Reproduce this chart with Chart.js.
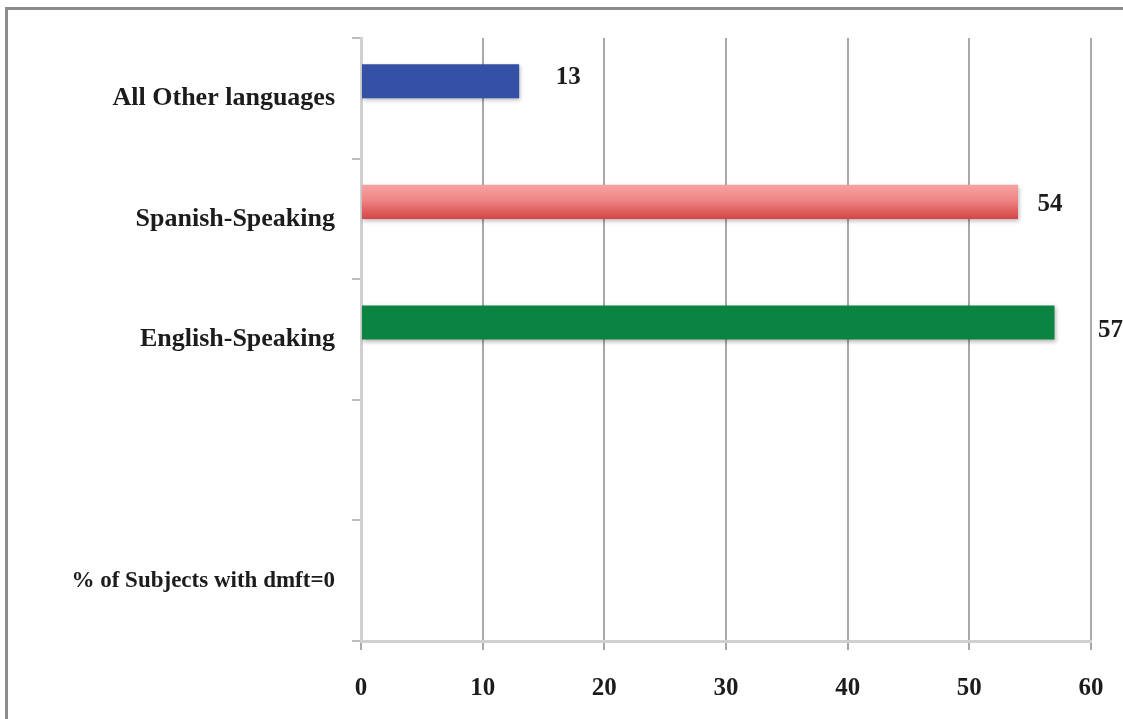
<!DOCTYPE html>
<html>
<head>
<meta charset="utf-8">
<script src="https://cdn.jsdelivr.net/npm/chart.js@4.4.1/dist/chart.umd.min.js"></script>
<style>
  html, body { margin: 0; padding: 0; background: #ffffff; overflow: hidden; }
  #wrap { position: relative; width: 1123px; height: 719px; }
  #frame {
    position: absolute; left: 5px; top: 7px; width: 1300px; height: 900px;
    border-top: 3px solid #8c8c8c; border-left: 3px solid #8c8c8c;
    box-sizing: border-box;
  }
  #c { position: absolute; left: 0; top: 0; }
</style>
</head>
<body>
<div id="wrap">
  <div id="frame"></div>
  <canvas id="c" width="1123" height="719"></canvas>
</div>
<script>
// Categories, top to bottom
const categories = [
  'All Other languages',
  'Spanish-Speaking',
  'English-Speaking',
  '',
  '% of Subjects with dmft=0'
];
// Percent of subjects with dmft = 0
const dmftZeroPct = [13, 54, 57, null, null];
// Companion series slot (no values)
const secondSeries = [null, null, null, null, null];
// Axis ticks
const xTicks = [0, 10, 20, 30, 40, 50, 60];

const barColors = ['#3451a6', '#e56a6a', '#0b8442'];
// Label nudges relative to each bar's end (styling only)
const labelNudge = [
  { dx: 49, dy: -4 },
  { dx: 32, dy: 3 },
  { dx: 56, dy: 8 }
];

const serif = '"Liberation Serif", "DejaVu Serif", serif';

const barStyle = {
  id: 'barStyle',
  beforeDatasetDraw(chart, args) {
    if (args.index !== 0) return;
    const ctx = chart.ctx;
    const meta = args.meta;
    meta.data.forEach((el, i) => {
      if (i === 1 && el.height) {
        const top = el.y - el.height / 2, bot = el.y + el.height / 2;
        const g = ctx.createLinearGradient(0, top, 0, bot);
        g.addColorStop(0, '#f7a3a3');
        g.addColorStop(0.45, '#ef8585');
        g.addColorStop(1, '#d44545');
        el.options.backgroundColor = g;
      }
    });
    ctx.save();
    ctx.shadowColor = 'rgba(0,0,0,0.28)';
    ctx.shadowBlur = 4;
    ctx.shadowOffsetX = 1;
    ctx.shadowOffsetY = 2;
  },
  afterDatasetDraw(chart, args) {
    if (args.index !== 0) return;
    chart.ctx.restore();
  }
};

const valueLabels = {
  id: 'valueLabels',
  afterDatasetsDraw(chart) {
    const ctx = chart.ctx;
    const meta = chart.getDatasetMeta(0);
    ctx.save();
    ctx.font = 'bold 25px ' + serif;
    ctx.fillStyle = '#1c1c1c';
    ctx.textAlign = 'center';
    ctx.textBaseline = 'middle';
    meta.data.forEach((el, i) => {
      const v = dmftZeroPct[i];
      if (v === null || v === undefined) return;
      const n = labelNudge[i] || { dx: 20, dy: 0 };
      ctx.fillText(String(v), el.x + n.dx, el.y + n.dy);
    });
    ctx.restore();
  }
};

new Chart(document.getElementById('c'), {
  type: 'bar',
  data: {
    labels: categories,
    datasets: [
      {
        label: '% dmft=0',
        data: dmftZeroPct,
        backgroundColor: barColors,
        borderWidth: 0,
        categoryPercentage: 0.565,
        barPercentage: 1.0
      },
      {
        label: '',
        data: secondSeries,
        backgroundColor: '#999999',
        categoryPercentage: 0.565,
        barPercentage: 1.0
      }
    ]
  },
  options: {
    indexAxis: 'y',
    responsive: false,
    animation: false,
    layout: { padding: { top: 38, right: 32, bottom: 0, left: 0 } },
    plugins: {
      legend: { display: false },
      tooltip: { enabled: false }
    },
    scales: {
      x: {
        min: 0,
        max: 60,
        afterBuildTicks(scale) { scale.ticks = xTicks.map(v => ({ value: v })); },
        afterFit(scale) {
          scale.height = 78;
          scale.paddingLeft = 0;
          scale.paddingRight = 0;
        },
        grid: {
          color: '#a8a8a8',
          lineWidth: 2,
          tickLength: 9,
          drawTicks: true
        },
        border: { display: true, color: '#d0d0d0', width: 3 },
        ticks: {
          padding: 24,
          color: '#1c1c1c',
          font: { family: serif, size: 25, weight: 'bold' }
        }
      },
      y: {
        afterFit(scale) { scale.width = 361; },
        grid: {
          offset: true,
          drawOnChartArea: false,
          tickLength: 9,
          color: '#bdbdbd',
          lineWidth: 2
        },
        border: { display: true, color: '#d0d0d0', width: 3 },
        ticks: {
          padding: 17,
          color: '#1c1c1c',
          font: (c) => ({
            family: serif,
            size: c.index === 4 ? 23 : 26,
            weight: 'bold'
          })
        }
      }
    }
  },
  plugins: [barStyle, valueLabels]
});
</script>
</body>
</html>
